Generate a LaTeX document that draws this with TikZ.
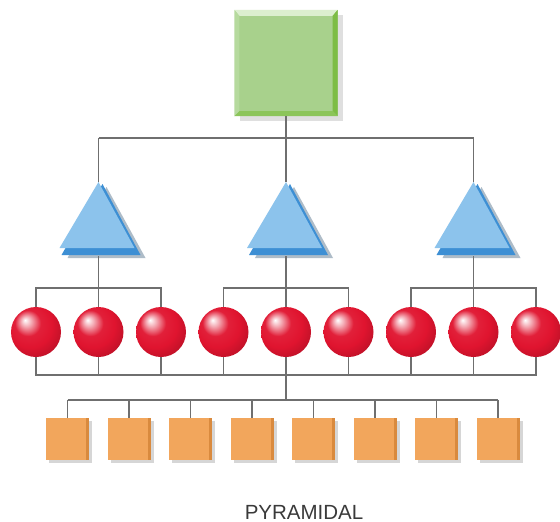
\documentclass[tikz,border=0pt]{standalone}
\usepackage{fontspec}
\setmainfont{Liberation Sans}
\usetikzlibrary{shadows,calc}
\definecolor{linecol}{HTML}{6F6F6F}
\definecolor{greenface}{HTML}{A8D18C}
\definecolor{greenlight}{HTML}{DCEFCF}
\definecolor{greenleft}{HTML}{B6DA9E}
\definecolor{greendark}{HTML}{7DBD45}
\definecolor{greenbot}{HTML}{8CC55A}
\definecolor{blueface}{HTML}{8CC3EC}
\definecolor{bluedark}{HTML}{3D8FD4}
\definecolor{blueshadow}{HTML}{AEBCC8}
\definecolor{spherered}{HTML}{E0142F}
\definecolor{orangeface}{HTML}{F2A65C}
\definecolor{orangedark}{HTML}{D98A3E}
\definecolor{textgray}{HTML}{3A3A3A}
\pgfdeclareradialshading{redball}{\pgfpoint{-11bp}{12bp}}{%
  color(0bp)=(white);
  color(5bp)=(spherered!35!white);
  color(13bp)=(spherered!95!white);
  color(22bp)=(spherered);
  color(30bp)=(spherered!88!black);
  color(36bp)=(spherered!75!black);
  color(50bp)=(spherered!60!black)}
\tikzset{
  conn/.style={draw=linecol, line width=1.6pt},
  topbox/.style={rectangle, inner sep=0pt, minimum width=103pt, minimum height=106pt, fill=greenface,
    drop shadow={shadow xshift=5pt, shadow yshift=-5pt, fill=gray!35, opacity=.7}},
  sph/.style={circle, inner sep=0pt, minimum size=50pt, shading=redball},
  osq/.style={rectangle, inner sep=0pt, minimum width=43pt, minimum height=42pt, fill=orangeface,
    drop shadow={shadow xshift=3pt, shadow yshift=-3pt, fill=gray!45, opacity=.7}},
  trishadow/.style={fill=blueshadow},
  trimid/.style={fill=bluedark},
  triface/.style={fill=blueface},
  lbl/.style={font=\fontsize{20.5}{24}\selectfont, text=textgray, inner sep=0pt}
}
\begin{document}
\begin{tikzpicture}[x=1pt,y=-1pt]
\useasboundingbox (0,0) rectangle (560,522);
\fill[white] (0,0) rectangle (560,522);

% top green square with bevel
\node[topbox] (top) at (286,63) {};
\fill[greenlight] (top.north west) -- (top.north east) -- ($(top.north east)+(-5,6)$) -- ($(top.north west)+(5,6)$) -- cycle;
\fill[greenleft] (top.north west) -- ($(top.north west)+(5,6)$) -- ($(top.south west)+(5,-5)$) -- (top.south west) -- cycle;
\fill[greendark] (top.north east) -- (top.south east) -- ($(top.south east)+(-5,-5)$) -- ($(top.north east)+(-5,6)$) -- cycle;
\fill[greenbot] (top.south west) -- (top.south east) -- ($(top.south east)+(-5,-5)$) -- ($(top.south west)+(5,-5)$) -- cycle;

% triangles
\foreach \i/\x in {1/98.5,2/286,3/473.5}{
  \coordinate (t\i) at (\x,182);
  \coordinate (tb\i) at (\x,256);
  \fill[trishadow] ($(t\i)+(8,5)$) -- ($(t\i)+(47,76)$) -- ($(t\i)+(-31,76)$) -- cycle;
  \fill[trimid] ($(t\i)+(4,2)$) -- ($(t\i)+(42,73)$) -- ($(t\i)+(-37,73)$) -- cycle;
  \fill[triface] (t\i) -- ($(t\i)+(36,66)$) -- ($(t\i)+(-39,66)$) -- cycle;
}

% spheres
\foreach \i in {0,...,8}{
  \node[sph] (s\i) at ({36+62.5*\i},332) {};
}

% orange squares
\foreach \i in {0,...,7}{
  \node[osq] (q\i) at ({67.5+61.5*\i},439) {};
  \fill[orangedark] (q\i.north east) -- (q\i.south east) -- ($(q\i.south east)+(-3,0)$) -- ($(q\i.north east)+(-3,0)$) -- cycle;
}

% connectors: top square to triangles
\coordinate (tbus) at (286,138);
\draw[conn] (top.south) -- (tbus);
\draw[conn] (t1 |- tbus) -- (t3 |- tbus);
\foreach \i in {1,2,3}{
  \draw[conn] (t\i |- tbus) -- (t\i);
}

% triangles to sphere groups
\foreach \g in {1,2,3}{
  \pgfmathtruncatemacro{\a}{3*\g-3}
  \pgfmathtruncatemacro{\b}{3*\g-2}
  \pgfmathtruncatemacro{\c}{3*\g-1}
  \coordinate (gb\g) at ($(tb\g)+(0,32)$);
  \draw[conn] (s\a.north) |- (gb\g) -| (s\c.north);
  \draw[conn] (tb\g) -- (s\b.north);
}

% lower sphere bus
\coordinate (lb) at (286,375);
\draw[conn] (s0.south) |- (lb) -| (s8.south);
\foreach \i in {1,...,7}{
  \draw[conn] (s\i.south) -- (s\i.south |- lb);
}

% bus to squares
\coordinate (sb) at (286,400);
\draw[conn] (lb) -- (sb);
\draw[conn] (q0.north |- sb) -- (q7.north |- sb);
\foreach \i in {0,...,7}{
  \draw[conn] (q\i.north |- sb) -- (q\i.north);
}

\node[lbl] (title) at (304,512) {PYRAMIDAL};
\end{tikzpicture}
\end{document}
